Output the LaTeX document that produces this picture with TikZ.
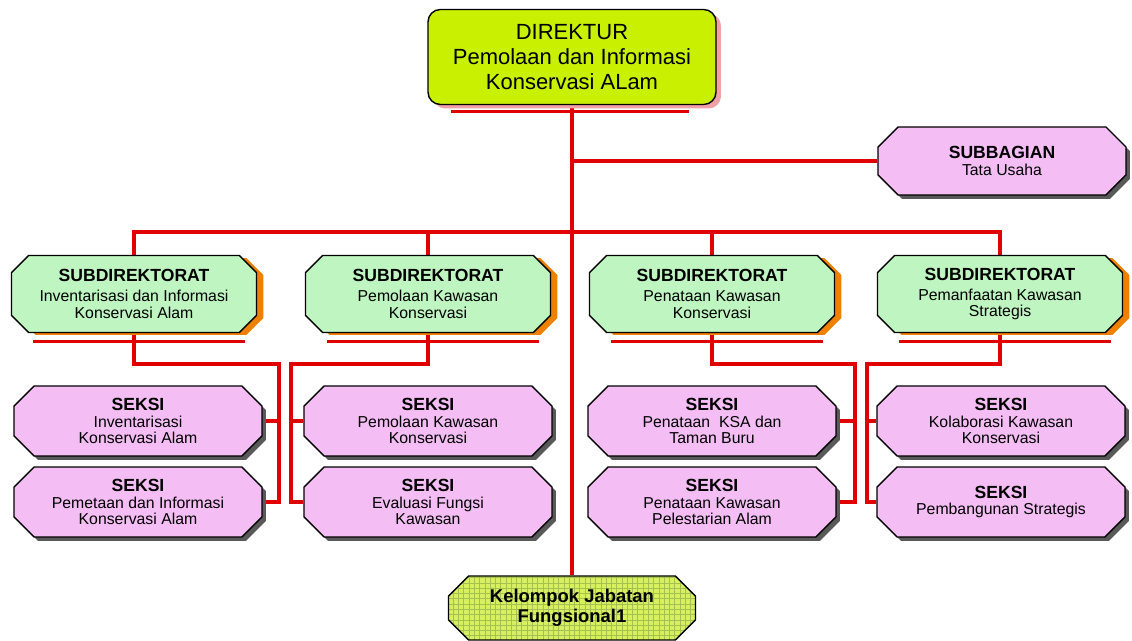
\documentclass[tikz,border=0pt]{standalone}
\usepackage{fontspec}
\setmainfont{Liberation Sans}
\usetikzlibrary{positioning, calc, shapes.misc, shadows, patterns, backgrounds}
\definecolor{linkred}{HTML}{E00000}
\definecolor{dirlime}{HTML}{C8F000}
\definecolor{dirshadow}{HTML}{F2A0A8}
\definecolor{subgreen}{HTML}{BFF5C0}
\definecolor{suborange}{HTML}{F08000}
\definecolor{seklilac}{HTML}{F4BEF4}
\definecolor{fjyellow}{HTML}{D8F060}
\definecolor{fjgrid}{HTML}{A4C050}
\tikzset{
    boxbase/.style={
        draw=black,
        thick,
        align=center,
        inner sep=1pt
    },
    dirbox/.style={
        boxbase,
        rounded corners=7pt,
        fill=dirlime,
        font=\fontsize{12.5}{14.2}\selectfont,
        minimum width=5.76cm,
        minimum height=1.9cm,
        drop shadow={shadow xshift=0.1cm, shadow yshift=-0.08cm, fill=dirshadow, opacity=1}
    },
    subbox/.style={
        boxbase,
        chamfered rectangle,
        chamfered rectangle xsep=0.17cm,
        chamfered rectangle ysep=0.17cm,
        fill=subgreen,
        font=\fontsize{9}{9.4}\selectfont,
        minimum width=4.9cm,
        minimum height=1.54cm,
        drop shadow={shadow xshift=0.14cm, shadow yshift=-0.05cm, fill=suborange, opacity=1}
    },
    sekbox/.style={
        boxbase,
        chamfered rectangle,
        chamfered rectangle xsep=0.2cm,
        chamfered rectangle ysep=0.2cm,
        fill=seklilac,
        font=\fontsize{9}{9.6}\selectfont,
        minimum width=4.96cm,
        minimum height=1.4cm,
        drop shadow={shadow xshift=0.08cm, shadow yshift=-0.08cm, fill=black!65, opacity=1}
    },
    fjbox/.style={
        boxbase,
        chamfered rectangle,
        chamfered rectangle xsep=0.2cm,
        chamfered rectangle ysep=0.2cm,
        preaction={fill=fjyellow},
        pattern=grid,
        pattern color=fjgrid,
        font=\bfseries\fontsize{10.5}{11.5}\selectfont,
        minimum width=4.94cm,
        minimum height=1.28cm
    },
    link/.style={
        draw=linkred,
        line width=1.9pt
    },
    uline/.style={
        draw=linkred,
        line width=1.9pt
    }
}
\newcommand{\ttl}[1]{{\bfseries\fontsize{10}{11}\selectfont #1}}

\begin{document}
\begin{tikzpicture}[x=0.02cm, y=-0.02cm]
    \useasboundingbox (0,0) rectangle (1132,641);

    % top level
    \node[dirbox] (dir) at (572,57) {DIREKTUR\\Pemolaan dan Informasi\\Konservasi ALam};
    \node[sekbox, minimum width=4.96cm, minimum height=1.36cm] (tu) at (1002,161) {\ttl{SUBBAGIAN}\\Tata Usaha};

    % subdirektorat
    \node[subbox] (sd1) at (134,294) {\ttl{SUBDIREKTORAT}\\[2pt]Inventarisasi dan Informasi\\Konservasi Alam};
    \node[subbox] (sd2) at (428,294) {\ttl{SUBDIREKTORAT}\\[2pt]Pemolaan Kawasan\\Konservasi};
    \node[subbox] (sd3) at (712,294) {\ttl{SUBDIREKTORAT}\\[2pt]Penataan Kawasan\\Konservasi};
    \node[subbox] (sd4) at (1000,294) {\ttl{SUBDIREKTORAT}\\[2pt]Pemanfaatan Kawasan\\Strategis};

    % seksi
    \node[sekbox] (sk11) at (138,421) {\ttl{SEKSI}\\Inventarisasi\\Konservasi Alam};
    \node[sekbox] (sk12) at (138,502) {\ttl{SEKSI}\\Pemetaan dan Informasi\\Konservasi Alam};
    \node[sekbox] (sk21) at (428,421) {\ttl{SEKSI}\\Pemolaan Kawasan\\Konservasi};
    \node[sekbox] (sk22) at (428,502) {\ttl{SEKSI}\\Evaluasi Fungsi\\Kawasan};
    \node[sekbox] (sk31) at (712,421) {\ttl{SEKSI}\\Penataan~ KSA dan\\Taman Buru};
    \node[sekbox] (sk32) at (712,502) {\ttl{SEKSI}\\Penataan Kawasan\\Pelestarian Alam};
    \node[sekbox] (sk41) at (1001,421) {\ttl{SEKSI}\\Kolaborasi Kawasan\\Konservasi};
    \node[sekbox] (sk42) at (1001,502) {\ttl{SEKSI}\\Pembangunan Strategis};

    \node[fjbox] (fj) at (572,608) {Kelompok Jabatan\\Fungsional1};

    \begin{scope}[on background layer]
        \coordinate (bus) at (572,232);
        \coordinate (v1) at (279,364);
        \coordinate (v2) at (291,364);
        \coordinate (v3) at (855,364);
        \coordinate (v4) at (867,364);

        \draw[link] (dir.south) -- (fj.north);
        \draw[link] (dir.south |- tu.west) -- (tu.west);
        \draw[link] (sd1.north) -- (sd1.north |- bus) -- (sd4.north |- bus) -- (sd4.north);
        \draw[link] (sd2.north) -- (sd2.north |- bus);
        \draw[link] (sd3.north) -- (sd3.north |- bus);

        \draw[link] (sd1.south) |- (v1) -- (v1 |- sk12.east) -- (sk12.east);
        \draw[link] (sk11.east) -- (v1 |- sk11.east);
        \draw[link] (sd2.south) |- (v2) -- (v2 |- sk22.west) -- (sk22.west);
        \draw[link] (sk21.west) -- (v2 |- sk21.west);
        \draw[link] (sd3.south) |- (v3) -- (v3 |- sk32.east) -- (sk32.east);
        \draw[link] (sk31.east) -- (v3 |- sk31.east);
        \draw[link] (sd4.south) |- (v4) -- (v4 |- sk42.west) -- (sk42.west);
        \draw[link] (sk41.west) -- (v4 |- sk41.west);
    \end{scope}

    % underlines
    \draw[uline] ($(dir.south west)+(24,6)$) -- ($(dir.south east)+(-28,6)$);
    \foreach \s in {sd1,sd2,sd3,sd4}
        \draw[uline] ($(\s.south)+(-101,8)$) -- ($(\s.south)+(111,8)$);
\end{tikzpicture}
\end{document}
